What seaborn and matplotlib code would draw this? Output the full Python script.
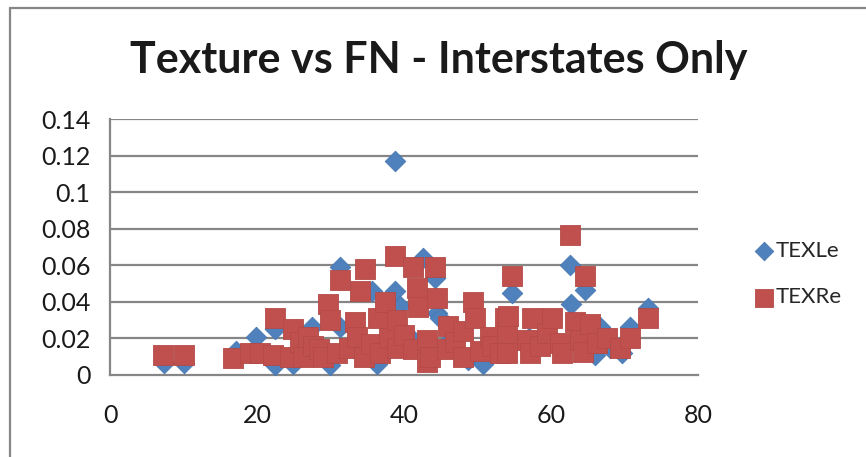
import matplotlib
matplotlib.use("Agg")
import matplotlib.pyplot as plt
from matplotlib.lines import Line2D
import seaborn as sns

# TEXLe (blue diamonds)
texle_x = [7.3, 10.0, 17.1, 19.9, 22.4, 22.4, 24.9, 26.0, 27.5, 29.9, 31.3, 31.3,
           33.0, 35.6, 36.3, 38.8, 38.8, 39.5, 41.0, 42.6, 44.2, 44.5, 44.9, 46.0,
           48.7, 50.8, 52.0, 54.7, 57.0, 60.0, 62.6, 62.7, 64.6, 66.0, 66.7, 68.0,
           69.7, 70.7, 73.2]
texle_y = [0.0065, 0.0065, 0.013, 0.021, 0.025, 0.0055, 0.006, 0.012, 0.026, 0.0055, 0.059, 0.026,
           0.015, 0.046, 0.006, 0.117, 0.046, 0.038, 0.020, 0.064, 0.053, 0.034, 0.031, 0.018,
           0.008, 0.006, 0.015, 0.045, 0.020, 0.018, 0.060, 0.039, 0.0465, 0.011, 0.026, 0.015,
           0.012, 0.026, 0.0365]

# TEXRe (red squares)
texre_x = [7.25, 10.0, 16.8, 19.0, 20.4, 22.2, 22.4, 24.5, 24.9, 25.9, 26.3, 27.0,
           27.6, 28.5, 29.0, 29.7, 29.9, 30.9, 31.3, 32.5, 33.3, 33.6, 34.0, 34.5,
           34.7, 35.5, 36.5, 36.7, 37.4, 38.0, 38.8, 39.0, 39.0, 40.0, 41.2, 41.2,
           41.8, 41.9, 43.1, 43.1, 43.5, 44.2, 44.5, 45.8, 46.0, 47.0, 48.0, 48.0,
           49.4, 49.7, 50.3, 51.7, 52.0, 53.0, 53.7, 54.0, 54.0, 54.2, 54.7, 56.7,
           57.1, 57.4, 58.5, 59.5, 60.1, 61.2, 61.5, 62.6, 63.3, 63.9, 64.4, 64.6,
           65.3, 66.3, 67.6, 69.4, 70.7, 73.2]
texre_y = [0.011, 0.011, 0.0093, 0.012, 0.012, 0.011, 0.031, 0.010, 0.025, 0.018, 0.010, 0.021,
           0.016, 0.014, 0.010, 0.039, 0.030, 0.012, 0.052, 0.015, 0.029, 0.021, 0.046, 0.010,
           0.058, 0.017, 0.031, 0.012, 0.040, 0.020, 0.065, 0.030, 0.015, 0.022, 0.059, 0.014,
           0.0475, 0.037, 0.019, 0.007, 0.010, 0.059, 0.042, 0.014, 0.027, 0.018, 0.024, 0.010,
           0.040, 0.031, 0.013, 0.021, 0.016, 0.012, 0.031, 0.023, 0.012, 0.032, 0.054, 0.019,
           0.012, 0.031, 0.016, 0.023, 0.031, 0.0175, 0.012, 0.0765, 0.029, 0.019, 0.0125, 0.054,
           0.028, 0.0175, 0.020, 0.015, 0.020, 0.031]

x_ticks = [0, 20, 40, 60, 80]
y_ticks = [0, 0.02, 0.04, 0.06, 0.08, 0.1, 0.12, 0.14]
y_labels = ["0", "0.02", "0.04", "0.06", "0.08", "0.1", "0.12", "0.14"]

sns.set_style("white")
plt.rcParams["font.family"] = ["Lato", "DejaVu Sans"]

grey = "#868686"
blue = "#4F81BD"
red = "#C0504D"

fig = plt.figure(figsize=(8.66, 4.57), dpi=100)
ax = fig.add_axes([110 / 866, 1 - 375 / 457, 588 / 866, 256 / 457])

sns.scatterplot(x=texle_x, y=texle_y, marker="D", s=110, color=blue,
                edgecolor="#4677B2", linewidth=0.6, label="TEXLe", ax=ax, zorder=3)
sns.scatterplot(x=texre_x, y=texre_y, marker="s", s=210, color=red,
                edgecolor="#B44A47", linewidth=0.6, label="TEXRe", ax=ax, zorder=4)

ax.set_xlim(0, 80)
ax.set_ylim(0, 0.14)
ax.set_xticks(x_ticks)
ax.set_xticklabels([str(t) for t in x_ticks])
ax.set_yticks(y_ticks)
ax.set_yticklabels(y_labels)
for y in y_ticks[1:]:
    ax.axhline(y, color=grey, lw=1.6, zorder=1)

for side in ["top", "right"]:
    ax.spines[side].set_visible(False)
for side in ["left", "bottom"]:
    ax.spines[side].set_color(grey)
    ax.spines[side].set_linewidth(1.6)
ax.tick_params(axis="both", direction="out", color=grey, width=1.4,
               labelsize=18, labelcolor="#1a1a1a")
ax.tick_params(axis="y", length=7, pad=7)
ax.tick_params(axis="x", length=8, pad=13)

fig.text(0.507, 1 - 60 / 457, "Texture vs FN - Interstates Only", ha="center", va="center",
         fontsize=31, fontweight="bold", color="#1a1a1a")

ax.legend(loc="center left", bbox_to_anchor=(755 / 866, 1 - 274 / 457),
          bbox_transform=fig.transFigure, frameon=False, fontsize=16,
          labelspacing=1.2, handletextpad=0.15, handlelength=0.8,
          markerscale=0.9, borderpad=0, borderaxespad=0)

# chart-area frame
fig.add_artist(Line2D([10 / 866, 10 / 866], [0, 1 - 8 / 457], color=grey, lw=1.6))
fig.add_artist(Line2D([10 / 866, 1], [1 - 8 / 457, 1 - 8 / 457], color=grey, lw=1.6))

fig.savefig("out.png", dpi=100)
